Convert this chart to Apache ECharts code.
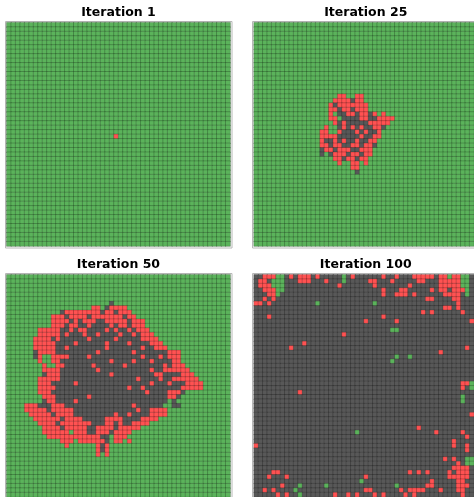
<!DOCTYPE html>
<html>
<head>
<meta charset="utf-8">
<script src="https://cdn.jsdelivr.net/npm/echarts@6/dist/echarts.min.js"></script>
<style>
  html, body { margin: 0; padding: 0; background: #fff; }
  #chart { width: 474px; height: 497px; }
</style>
</head>
<body>
<div id="chart"></div>
<script>
// grid states: '.' tree, 'R' burning, 'B' burnt
const gridSize = 50;
const titles = ['Iteration 1', 'Iteration 25', 'Iteration 50', 'Iteration 100'];

// iteration 1: one burning cell [row, col]
const iter1Burning = [[25, 24]];

// iteration 25: rows start at row 16, strings start at col 15
const iter25StartRow = 16;
const iter25StartCol = 15;
const iter25Rows = [
  '....RR..RR',
  '...RRRRBRR',
  '..RBRRRRRRR',
  '..RRBRRBRRR',
  '..R.BBRRBRRBR.R',
  '..RR.BBBBRRBBRRRR',
  '...RBRBBBBBRRRRR',
  '.R..BRBRBRBBRRB',
  'RR..RBBBRBRBBR',
  'RRRRBBBBBRBBRR',
  'RBBRBRBBRBBRR',
  'RRBRRBBRRBRRB',
  'BRRBRRRBBRRR',
  'B.BRRRBRRBRR',
  '...RRBRRBRR',
  '....R..RR.R',
  '.......RR',
  '........B'
];

// iteration 50: rows start at row 6, strings start at col 4
const iter50StartRow = 6;
const iter50StartCol = 4;
const iter50Rows = [
  '...................B',
  '...............RR.BRRRR',
  '........BRRRRRRRRBRRBRRR',
  '......RRRBRRRRBRRRRRRRBRR',
  '......RRRRBRBRRRBBRRRRRBRRR',
  '......RRRBRRBBRBBBBRBRRBRRR',
  '...RRRRRBBRBRRBBBBRBRBBRBRRR.',
  '...RRRRRBRBBBRBBRBBBBRBBRBRRR.',
  '..RRRRBRBBBBBBRBBBBBRBBBBBRRRR',
  '..RRRRRBBBBRBBBBBBRBBBBRBBBBRRR',
  '..RRRRRBBRBBBBBBBBRBBBBBBBRBBRRR',
  '..BRRRRBBBBBBBBBRBBBBBBBRBBBBBBBRRR',
  '..BR..RRRRBBBBRBBBBBBBBBBBRBBBRBRRR',
  '...R..RRBBBBBBBBBBBRBBBBRBBBRBBBBRR',
  '....R..RRBBBBBBRBBBBBBRBBBBBBBBRBRRR',
  '....RRRRBBBBBBBBRBBBBBBBBBBBRBBRRRRRR',
  '....BRRRBBBBBBBBBBBRBBBBBBBBBRRBBBBRRR',
  '...RRRRRBBBBBBBBBBBBBBBBBRBBBBRBBRRRRRR',
  '...RRRBBBBBRBBBBBBBBBBBBBBBBRBBBRBBBRRRR',
  '...RRRRBBBBBBBBBBBBBBBBRBBRBBBBBBBBRRRRR',
  '...RRRBBBBBBBBBBBBBBBBBBBBBRBBBBRRRB',
  '....RRRBBBBBBBRBBBBBBBBBBBBBBBBBRRB',
  '....BRRBBBBRBBBBBBBBBBBBBBBBBBBB.B',
  'RRRBBBRRRBBBBBBBBBBBBBBBRBBBBBB..BB',
  'RRRRRBRRRRRBBBBBBBBBBBBBBRBBRRRR',
  '.RRRRRBRRRRBBBBBBBBBRBBRBBBBRRRR',
  '..RRRRRRBRRRRBBBBBRRRRBBBBRRRR',
  '...RRRRBRRRRRRRBBBRRBRBBRRRR',
  '....RRRRBRRRRRBBRRRRBRRRRR',
  '....RRRRRR.RRRBBRRRBRRRR',
  '.....RRRRRRRRRRRRBB.RRR',
  '........RRR.RRRRRRB.RR.R',
  '.........R......RBR',
  '................RBR',
  '................R.R'
];

// iteration 100: everything burnt except these cells [row, col]
const iter100Burning = [
  [0,2],[0,3],[0,4],[0,8],[0,10],[0,11],[0,12],[0,14],[0,22],[0,29],[0,32],[0,36],[0,37],[0,38],[0,39],[0,40],[0,42],[0,43],[0,45],[0,46],
  [1,1],[1,2],[1,10],[1,11],[1,12],[1,16],[1,26],[1,27],[1,31],[1,37],[1,38],[1,42],[1,43],[1,44],[1,45],[1,46],
  [2,1],[2,2],[2,3],[2,19],[2,27],[2,35],[2,42],[2,43],[2,44],[2,45],[2,46],
  [3,2],[3,3],[3,4],[3,29],[3,33],[3,34],[3,40],[3,42],[3,43],[3,45],[3,46],[3,47],
  [4,3],[4,4],[4,29],[4,32],[4,33],[4,34],[4,36],[4,43],[4,44],[4,45],[4,46],
  [5,2],[5,4],[5,39],[5,40],[5,45],[5,46],
  [6,0],[6,1],[6,3],[6,46],
  [7,43],[7,44],[7,46],
  [8,38],[8,40],[8,47],
  [9,3],[9,29],
  [10,25],[10,32],[10,49],
  [13,20],[15,11],[16,8],[16,48],[17,42],
  [24,47],[24,48],[25,47],[26,10],[31,49],
  [34,37],[35,41],[35,47],[36,48],[37,45],
  [38,0],[38,45],[38,48],[39,48],
  [41,43],[41,45],[42,46],
  [43,45],[43,46],[43,47],[43,48],
  [44,4],[44,5],[44,35],[44,37],[44,39],[44,44],[44,46],[44,47],[44,48],
  [45,3],[45,7],[45,25],[45,44],[45,45],[45,46],[45,47],[45,48],
  [46,40],[46,46],[46,47],
  [47,6],[47,39],[47,40],[47,46],[47,47],[47,48],
  [48,2],[48,4],[48,25],[48,26],[48,33],[48,35],[48,36],[48,37],[48,38],[48,42],[48,46],[48,47],
  [49,5],[49,7],[49,18],[49,21],[49,23],[49,27],[49,29],[49,34],[49,36],[49,47]
];
const iter100Trees = [
  [0,5],[0,6],[0,20],[0,44],[0,47],[0,48],
  [1,4],[1,5],[1,6],[1,20],[1,47],[1,48],
  [2,4],[2,5],[2,6],[2,47],[2,48],
  [3,5],[3,6],[3,48],[4,5],[4,48],
  [6,14],[6,27],[12,31],[12,32],
  [18,32],[18,35],[19,31],
  [24,49],[25,49],[27,47],[28,47],[35,23],
  [41,48],[41,49],[42,48],[42,49],
  [46,24],[47,10],[47,16],[47,32],[48,9],[49,10]
];

const stateCode = { '.': 0, 'R': 1, 'B': 2 };

function emptyGrid(code) {
  let g = [];
  for (let r = 0; r < gridSize; r++) {
    g.push(new Array(gridSize).fill(code));
  }
  return g;
}
function applyRows(g, rows, startRow, startCol) {
  rows.forEach(function (line, i) {
    for (let j = 0; j < line.length; j++) {
      g[startRow + i][startCol + j] = stateCode[line[j]];
    }
  });
}
function applyCells(g, cells, code) {
  cells.forEach(function (rc) { g[rc[0]][rc[1]] = code; });
}
function toHeatmap(g) {
  let out = [];
  for (let r = 0; r < gridSize; r++) {
    for (let c = 0; c < gridSize; c++) {
      out.push([c, r, g[r][c]]);
    }
  }
  return out;
}

let g1 = emptyGrid(0);
applyCells(g1, iter1Burning, 1);
let g25 = emptyGrid(0);
applyRows(g25, iter25Rows, iter25StartRow, iter25StartCol);
let g50 = emptyGrid(0);
applyRows(g50, iter50Rows, iter50StartRow, iter50StartCol);
let g100 = emptyGrid(2);
applyCells(g100, iter100Burning, 1);
applyCells(g100, iter100Trees, 0);
const grids = [g1, g25, g50, g100];

const idx = [];
for (let i = 0; i < gridSize; i++) idx.push(i);

// panel layout
const cell = 4.47;
const side = cell * gridSize;
const lefts = [6.7, 254, 6.7, 254];
const tops = [22.6, 22.6, 274.7, 274.7];

let myChart = echarts.init(document.getElementById('chart'), null, { renderer: 'canvas' });

let opt = {
  animation: false,
  title: titles.map(function (t, i) {
    return {
      text: t,
      left: lefts[i] + side / 2,
      top: tops[i] - 16,
      textAlign: 'center',
      padding: 0,
      textStyle: {
        fontFamily: 'DejaVu Sans',
        fontWeight: 'bold',
        fontSize: 12.5,
        color: '#000'
      }
    };
  }),
  grid: lefts.map(function (l, i) {
    return { left: l, top: tops[i], width: side, height: side, containLabel: false };
  }),
  xAxis: lefts.map(function (l, i) {
    return { type: 'category', gridIndex: i, data: idx, show: false };
  }),
  yAxis: lefts.map(function (l, i) {
    return { type: 'category', gridIndex: i, data: idx, inverse: true, show: false };
  }),
  visualMap: {
    type: 'piecewise',
    show: false,
    dimension: 2,
    seriesIndex: [0, 1, 2, 3],
    pieces: [
      { value: 0, color: '#5bb35b' },
      { value: 1, color: '#ff5252' },
      { value: 2, color: '#585858' }
    ]
  },
  graphic: lefts.map(function (l, i) {
    return {
      type: 'rect',
      shape: { x: Math.round(l) - 1.5, y: Math.round(tops[i]) - 1.5, width: side + 3, height: side + 3 },
      style: { fill: 'none', stroke: '#b8b8b8', lineWidth: 1 },
      silent: true
    };
  }),
  series: grids.map(function (g, i) {
    return {
      type: 'heatmap',
      xAxisIndex: i,
      yAxisIndex: i,
      data: toHeatmap(g),
      progressive: 0,
      itemStyle: { borderColor: 'rgba(0,0,0,0.34)', borderWidth: 0.6 },
      emphasis: { disabled: true }
    };
  })
};
myChart.setOption(opt);
</script>
</body>
</html>
